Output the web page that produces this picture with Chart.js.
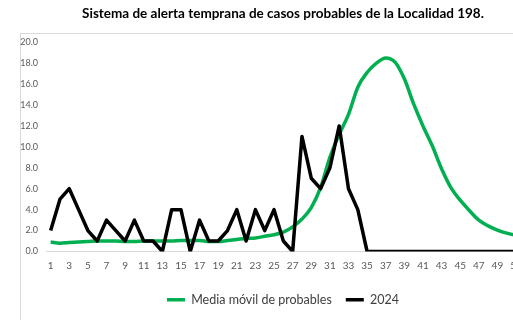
<!DOCTYPE html>
<html>
<head>
<meta charset="utf-8">
<script src="https://cdn.jsdelivr.net/npm/chart.js@4.4.1/dist/chart.umd.min.js"></script>
<style>
  html, body { margin: 0; padding: 0; overflow: hidden; background: #fff; }
  canvas { display: block; }
</style>
</head>
<body>
<canvas id="alerta" width="566" height="320"></canvas>
<script>
// semanas epidemiologicas
var semanas = [1, 2, 3, 4, 5, 6, 7, 8, 9, 10, 11, 12, 13, 14, 15, 16, 17, 18, 19, 20,
  21, 22, 23, 24, 25, 26, 27, 28, 29, 30, 31, 32, 33, 34, 35, 36, 37, 38, 39, 40,
  41, 42, 43, 44, 45, 46, 47, 48, 49, 50, 51, 52];

var mediaMovil = [0.9, 0.8, 0.85, 0.9, 0.95, 1.0, 1.0, 1.0, 0.95, 0.95, 1.0, 1.0, 1.0, 1.0, 1.05, 1.05,
  1.05, 0.95, 0.95, 1.05, 1.15, 1.25, 1.3, 1.45, 1.6, 1.85, 2.35, 3.1, 4.2, 6.1, 9.0, 11.2,
  13.1, 15.7, 17.1, 18.0, 18.5, 18.1, 16.5, 14.1, 12.0, 10.1, 7.9, 6.1, 4.9, 3.9, 3.0, 2.45,
  2.05, 1.75, 1.55, 1.4];

var casos2024 = [2, 5, 6, 4, 2, 1, 3, 2, 1, 3, 1, 1, 0, 4, 4, 0, 3, 1, 1, 2,
  4, 1, 4, 2, 4, 1, 0, 11, 7, 6, 8, 12, 6, 4, 0, 0, 0, 0, 0, 0,
  0, 0, 0, 0, 0, 0, 0, 0, 0, 0, 0, 0];

var yMin = 0, yMax = 20, yPaso = 2;

var verde = "#00B050";
var negro = "#000000";
var gris = "#595959";

// marco gris claro del grafico
var marco = {
  id: 'marco',
  beforeDraw: function (chart) {
    var ctx = chart.ctx;
    ctx.save();
    ctx.strokeStyle = "#d9d9d9";
    ctx.lineWidth = 1;
    ctx.strokeRect(20.5, 33.5, chart.width, chart.height);
    ctx.restore();
  }
};

new Chart(document.getElementById('alerta'), {
  type: 'line',
  data: {
    labels: semanas,
    datasets: [{
      label: 'Media móvil de probables',
      data: mediaMovil,
      borderColor: verde,
      backgroundColor: verde,
      borderWidth: 3.5,
      pointRadius: 0,
      tension: 0.4,
      cubicInterpolationMode: 'monotone',
      order: 1
    }, {
      label: '2024',
      data: casos2024,
      borderColor: negro,
      backgroundColor: negro,
      borderWidth: 3.5,
      pointRadius: 0,
      tension: 0,
      borderJoinStyle: 'round',
      order: 0
    }]
  },
  options: {
    responsive: false,
    animation: false,
    layout: { padding: { left: 20, right: 20, top: 0, bottom: 4 } },
    plugins: {
      title: {
        display: true,
        text: 'Sistema de alerta temprana de casos probables de la Localidad 198.',
        color: '#000',
        font: { family: 'Lato', size: 13.5, weight: 'bold' },
        padding: { top: 6, bottom: 20 }
      },
      legend: {
        position: 'bottom',
        labels: {
          color: '#404040',
          font: { family: 'Lato', size: 12.5 },
          usePointStyle: true,
          pointStyle: 'line',
          pointStyleWidth: 18,
          padding: 14,
          sort: function (a, b) { return a.datasetIndex - b.datasetIndex; }
        }
      },
      tooltip: { enabled: false }
    },
    scales: {
      x: {
        offset: true,
        grid: { display: false, drawTicks: false },
        border: { display: true, color: '#d9d9d9', width: 1 },
        ticks: {
          color: gris,
          font: { family: 'Lato', size: 10 },
          autoSkip: false,
          maxRotation: 0,
          padding: 8,
          callback: function (v, i) { return i % 2 === 0 ? semanas[i] : ''; }
        }
      },
      y: {
        min: yMin,
        max: yMax,
        afterFit: function (s) { s.width = 26; },
        grid: { display: false, drawTicks: false },
        border: { display: false },
        ticks: {
          stepSize: yPaso,
          color: gris,
          font: { family: 'Lato', size: 9 },
          padding: 8,
          callback: function (v) { return v.toFixed(1); }
        }
      },
      // eje vacio a la derecha, solo reserva espacio
      yd: {
        position: 'right',
        min: yMin,
        max: yMax,
        afterFit: function (s) { s.width = 16; },
        grid: { display: false, drawTicks: false },
        border: { display: false },
        ticks: { display: false }
      }
    }
  },
  plugins: [marco]
});
</script>
</body>
</html>
